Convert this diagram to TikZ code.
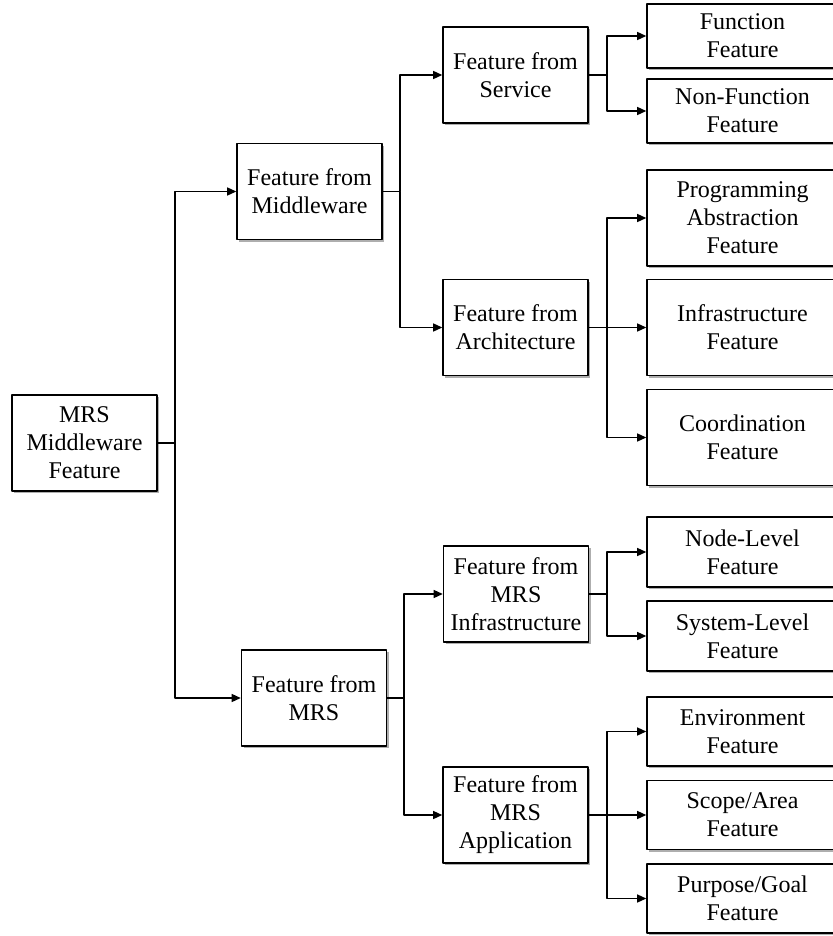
\documentclass[tikz,border=0pt]{standalone}
\usepackage{fontspec}
\setmainfont{Liberation Serif}
\usetikzlibrary{arrows.meta,shadows}
\tikzset{
	box/.style={draw,fill=white,line width=0.7pt,align=center,inner sep=1pt,
		drop shadow={shadow xshift=1.2pt,shadow yshift=-1.2pt,fill=black!70,opacity=0.45}},
	mid/.style={box,minimum width=72.5pt,minimum height=48pt},
	leaf/.style={box,minimum width=95.5pt,minimum height=#1},
	leaf/.default=34.5pt,
	link/.style={-{Triangle[length=4.6pt,width=4pt]},line width=0.8pt}
}
\begin{document}
\begin{tikzpicture}[
	x=0.5pt,y=-0.5pt,
	line cap=round,
	line join=round,
	font=\fontsize{12pt}{14pt}\selectfont
	]
	\useasboundingbox (0,0) rectangle (832,936);
	\node[mid] (root) at (84.5,443) {MRS\\Middleware\\Feature};
	\node[mid] (mw) at (309.5,191.5) {Feature from\\Middleware};
	\node[mid] (mrs) at (314,698) {Feature from\\MRS};
	\node[mid] (svc) at (515.5,75) {Feature from\\Service};
	\node[mid] (arch) at (515.5,327.5) {Feature from\\Architecture};
	\node[mid] (infra) at (516,594) {Feature from\\MRS\\Infrastructure};
	\node[mid] (app) at (515.5,815) {Feature from\\MRS\\Application};
	\node[leaf=32pt] (func) at (742.5,36) {Function\\Feature};
	\node[leaf=32pt] (nonfunc) at (742.5,111) {Non-Function\\Feature};
	\node[leaf=48pt] (prog) at (742.5,218) {Programming\\Abstraction\\Feature};
	\node[leaf=48pt] (infr) at (742.5,327.5) {Infrastructure\\Feature};
	\node[leaf=48pt] (coord) at (742.5,437.5) {Coordination\\Feature};
	\node[leaf=35pt] (nodelvl) at (742.5,552) {Node-Level\\Feature};
	\node[leaf=35pt] (syslvl) at (742.5,636) {System-Level\\Feature};
	\node[leaf] (env) at (742.5,731.5) {Environment\\Feature};
	\node[leaf] (scope) at (742.5,815) {Scope/Area\\Feature};
	\node[leaf] (goal) at (742.5,898.5) {Purpose/Goal\\Feature};
	\begin{scope}[link]
		\draw (root.east) -- ++(8.5pt,0) |- (mw.west);
		\draw (root.east) -- ++(8.5pt,0) |- (mrs.west);
		\draw (mw.east) -- ++(8.5pt,0) |- (svc.west);
		\draw (mw.east) -- ++(8.5pt,0) |- (arch.west);
		\draw (mrs.east) -- ++(8.5pt,0) |- (infra.west);
		\draw (mrs.east) -- ++(8.5pt,0) |- (app.west);
		\draw (svc.east) -- ++(9pt,0) |- (func.west);
		\draw (svc.east) -- ++(9pt,0) |- (nonfunc.west);
		\draw (arch.east) -- ++(9pt,0) |- (prog.west);
		\draw (arch.east) -- (infr.west);
		\draw (arch.east) -- ++(9pt,0) |- (coord.west);
		\draw (infra.east) -- ++(9pt,0) |- (nodelvl.west);
		\draw (infra.east) -- ++(9pt,0) |- (syslvl.west);
		\draw (app.east) -- ++(9pt,0) |- (env.west);
		\draw (app.east) -- (scope.west);
		\draw (app.east) -- ++(9pt,0) |- (goal.west);
	\end{scope}
\end{tikzpicture}
\end{document}
